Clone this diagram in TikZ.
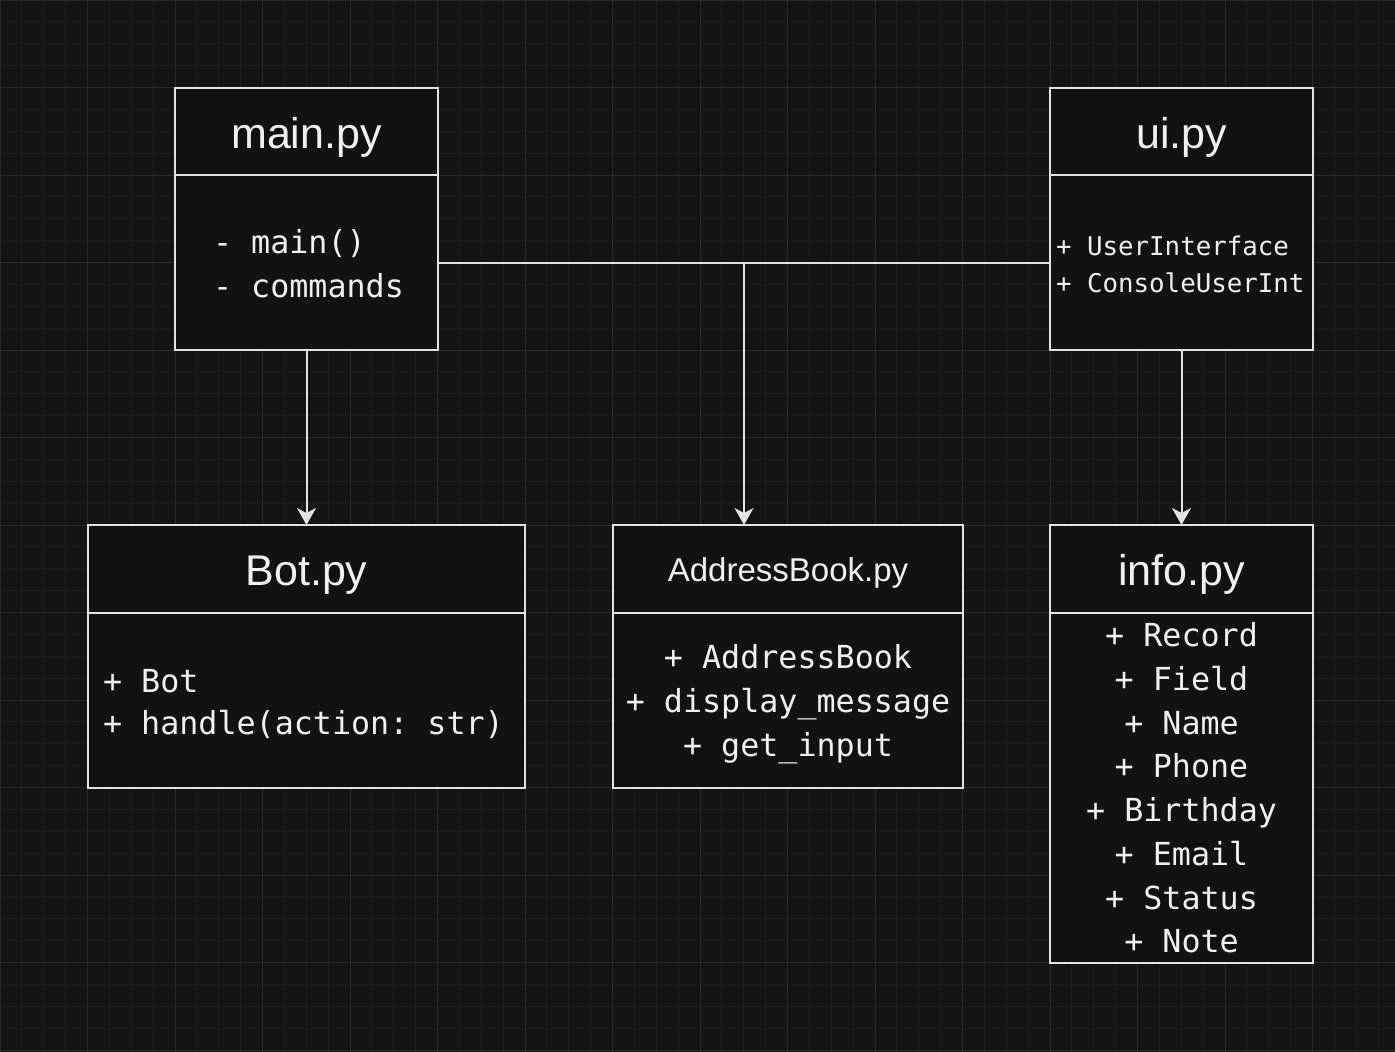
\documentclass[tikz,border=0pt]{standalone}
\usepackage{fontspec}
\setmainfont{Liberation Sans}
\newfontfamily\codefont{DejaVu Sans Mono}
\newcommand\msp{\hspace*{0.6021em}}
\usetikzlibrary{arrows.meta}
\definecolor{bgc}{HTML}{141414}
\definecolor{minorc}{HTML}{1C1C1C}
\definecolor{majorc}{HTML}{2A2A2A}
\definecolor{boxfill}{HTML}{121212}
\definecolor{linec}{HTML}{E2E2E2}
\definecolor{textc}{HTML}{F0F0F0}
\begin{document}
\begin{tikzpicture}[x=1pt,y=-1pt,
  box/.style={draw=linec, line width=2pt, fill=boxfill, rectangle, inner sep=0pt, outer sep=0pt, text=textc},
  clstitle/.style={box, font=\fontsize{43}{50}\selectfont, text height=33pt, text depth=0pt},
  smalltitle/.style={box, font=\fontsize{33}{40}\selectfont, text height=24pt, text depth=0pt},
  code/.style={font=\codefont\fontsize{31.7}{44}\selectfont},
  link/.style={draw=linec, line width=2pt},
  arrowlink/.style={link, -{Stealth[length=17pt,width=19pt,inset=5pt]}}
]
\useasboundingbox (0,0) rectangle (1395,1052);
\fill[bgc] (0,0) rectangle (1395,1052);
% grid
\foreach \i in {0,...,63} \draw[minorc, line width=1pt] (\i*21.875,0) -- (\i*21.875,1052);
\foreach \i in {0,...,48} \draw[minorc, line width=1pt] (0,\i*21.875) -- (1395,\i*21.875);
\foreach \i in {0,...,15} \draw[majorc, line width=1pt] (\i*87.5,0) -- (\i*87.5,1052);
\foreach \i in {0,...,12} \draw[majorc, line width=1pt] (0,\i*87.5) -- (1395,\i*87.5);

% main.py
\node[clstitle, minimum width=263pt, minimum height=87pt] (maint) at (306.5,131.5) {main.py};
\node[box, code, minimum width=263pt, minimum height=175pt, text width=225pt, inner xsep=19pt, align=left] (mainb) at (306.5,262.5) {\rule{0pt}{26pt}\hspace*{19pt}-\msp main()\\\hspace*{19pt}-\msp commands};

% ui.py
\node[clstitle, minimum width=263pt, minimum height=87pt] (uit) at (1181.5,131.5) {ui.py};
\node[box, font=\codefont\fontsize{25.8}{37}\selectfont, minimum width=263pt, minimum height=175pt, text width=251pt, inner xsep=6pt, align=left] (uib) at (1181.5,262.5) {\rule{0pt}{23.6pt}+\msp UserInterface\\+\msp ConsoleUserInt};

% Bot.py
\node[clstitle, minimum width=437pt, minimum height=88pt] (bott) at (306.5,569) {Bot.py};
\node[box, code, font=\codefont\fontsize{31.7}{42}\selectfont, minimum width=437pt, minimum height=175pt, text width=407pt, inner xsep=15pt, align=left] (botb) at (306.5,700.5) {\rule{0pt}{31pt}+\msp Bot\\+\msp handle(action:\msp str)};

% AddressBook.py
\node[smalltitle, minimum width=350pt, minimum height=88pt] (abt) at (788,569) {AddressBook.py};
\node[box, code, minimum width=350pt, minimum height=175pt, text width=340pt, inner xsep=5pt, align=center] (abb) at (788,700.5) {\rule{0pt}{32pt}+\msp AddressBook\\+\msp display\_message\\+\msp get\_input};

% info.py
\node[clstitle, minimum width=263pt, minimum height=88pt] (infot) at (1181.5,569) {info.py};
\node[box, code, font=\codefont\fontsize{31.7}{43.7}\selectfont, minimum width=263pt, minimum height=350pt, text width=253pt, inner xsep=5pt, align=center] (infob) at (1181.5,788) {+\msp Record\\+\msp Field\\+\msp Name\\+\msp Phone\\+\msp Birthday\\+\msp Email\\+\msp Status\\+\msp Note};

% connectors
\coordinate (junc) at (744,262.5);
\draw[link] (mainb.east) -- (uib.west);
\draw[arrowlink] (mainb.south) -- (bott.north);
\draw[arrowlink] (junc) -- (abt.north -| junc);
\draw[arrowlink] (uib.south) -- (infot.north);
\end{tikzpicture}
\end{document}
